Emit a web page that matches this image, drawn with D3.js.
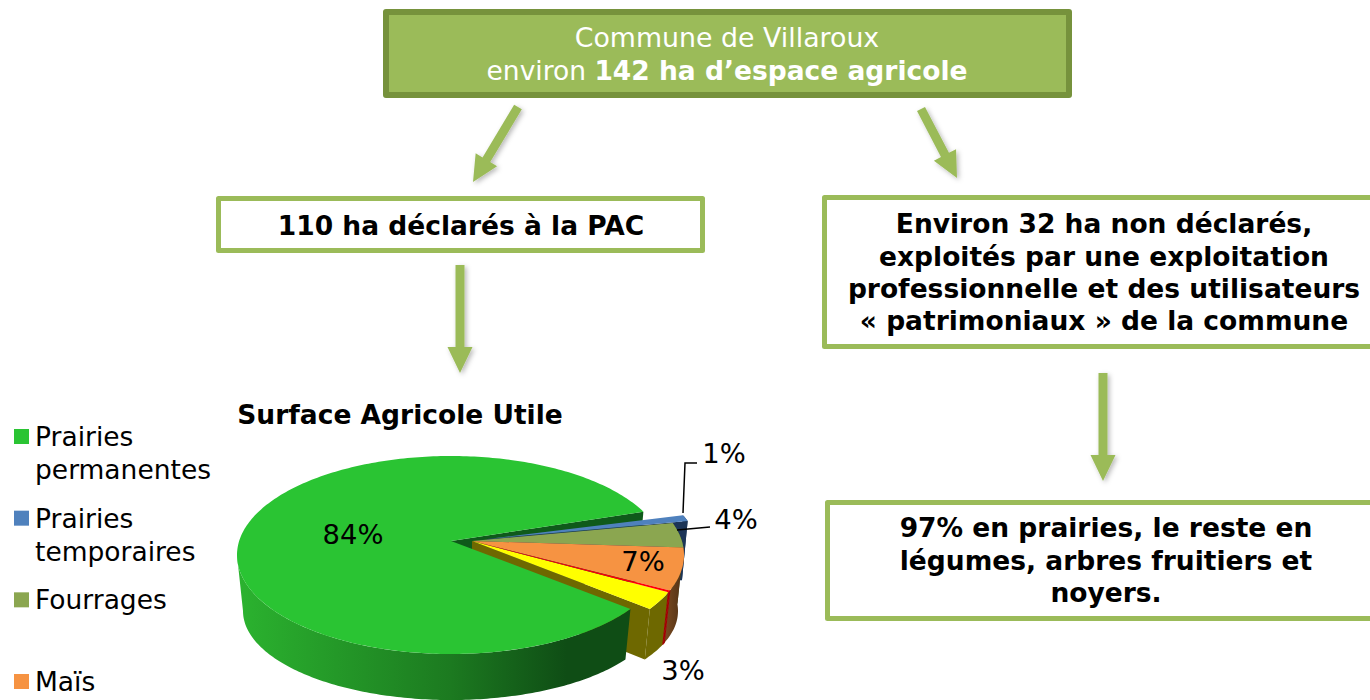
<!DOCTYPE html>
<html>
<head>
<meta charset="utf-8">
<title>Commune de Villaroux</title>
<script src="https://cdn.jsdelivr.net/npm/d3@7"></script>
<style>
  html, body { margin: 0; padding: 0; background: #fff; overflow: hidden; }
  svg { display: block; font-family: "DejaVu Sans", Verdana, sans-serif; }
</style>
</head>
<body>
<script>
// pie values (the red sliver has no label, its size is a guess)
var sliceNames = ["Prairies permanentes", "Prairies temporaires", "Fourrages", "Maïs", "Rouge", "Jaune"];
var sliceValues = [84, 1, 4, 7, 0.3, 3];
var sliceLabels = ["84%", "1%", "4%", "7%", "", "3%"];
var legendLines = [["Prairies", "permanentes"], ["Prairies", "temporaires"], ["Fourrages"], ["Maïs"]];
var chartTitle = "Surface Agricole Utile";

var w = 1370;
var h = 700;

var green = "#9bbb59";
var topColors = ["#2ac433", "#4f81bd", "#8ba650", "#f69342", "#ff0000", "#ffff00"];
var faceColors = ["#0f5a1a", "#1c3557", "#4a5a25", "#6a3f1c", "#a00000", "#6e6800"];

var svg = d3.select("body").append("svg")
    .attr("width", w)
    .attr("height", h);

var defs = svg.append("defs");

var shadow = defs.append("filter").attr("id", "shadow")
    .attr("x", "-30%").attr("y", "-30%").attr("width", "170%").attr("height", "170%");
shadow.append("feDropShadow")
    .attr("dx", 2).attr("dy", 2).attr("stdDeviation", 2.5)
    .attr("flood-color", "#000").attr("flood-opacity", 0.28);

var sideGradient = defs.append("linearGradient").attr("id", "greenSide")
    .attr("gradientUnits", "userSpaceOnUse")
    .attr("x1", 237).attr("x2", 625).attr("y1", 0).attr("y2", 0);
sideGradient.append("stop").attr("offset", "0%").attr("stop-color", "#2bb32f");
sideGradient.append("stop").attr("offset", "55%").attr("stop-color", "#1c7a20");
sideGradient.append("stop").attr("offset", "85%").attr("stop-color", "#0f4d15");
sideGradient.append("stop").attr("offset", "100%").attr("stop-color", "#0f4d15");

var brownGradient = defs.append("linearGradient").attr("id", "orangeSide")
    .attr("gradientUnits", "userSpaceOnUse")
    .attr("x1", 665).attr("x2", 684).attr("y1", 0).attr("y2", 0);
brownGradient.append("stop").attr("offset", "0%").attr("stop-color", "#7a4a20");
brownGradient.append("stop").attr("offset", "100%").attr("stop-color", "#4d2f14");

// ---- boxes ----
function box(x, y, width, height, stroke, strokeWidth, fill) {
  svg.append("rect")
      .attr("x", x).attr("y", y)
      .attr("width", width).attr("height", height)
      .attr("fill", fill)
      .attr("stroke", stroke)
      .attr("stroke-linejoin", "round")
      .attr("stroke-width", strokeWidth);
}

function centered(x, y, size, weight, fill, str) {
  return svg.append("text")
      .attr("x", x).attr("y", y)
      .attr("text-anchor", "middle")
      .attr("font-size", size)
      .attr("font-weight", weight)
      .attr("fill", fill)
      .text(str);
}

var boxFont = 26.5;

box(386, 12, 683, 83, "#76923c", 6, green);
centered(727, 47, 26.8, "normal", "#fff", "Commune de Villaroux");
var second = centered(727, 80, boxFont, "normal", "#fff", "environ ");
second.append("tspan").attr("font-weight", "bold").text("142 ha d’espace agricole");

box(218.5, 198.5, 484, 52, green, 5, "#fff");
centered(461, 235, boxFont, "bold", "#000", "110 ha déclarés à la PAC");

box(824.5, 197.5, 560, 149, green, 5, "#fff");
centered(1104, 233, boxFont, "bold", "#000", "Environ 32 ha non déclarés,");
centered(1104, 266, boxFont, "bold", "#000", "exploités par une exploitation");
centered(1104, 298, boxFont, "bold", "#000", "professionnelle et des utilisateurs");
centered(1104, 330, boxFont, "bold", "#000", "« patrimoniaux » de la commune");

box(827.5, 502.5, 560, 116, green, 5, "#fff");
centered(1106, 537, boxFont, "bold", "#000", "97% en prairies, le reste en");
centered(1106, 570, boxFont, "bold", "#000", "légumes, arbres fruitiers et");
centered(1106, 602, boxFont, "bold", "#000", "noyers.");

// ---- arrows ----
function arrow(x1, y1, x2, y2) {
  var a = Math.atan2(y2 - y1, x2 - x1);
  var ux = Math.cos(a), uy = Math.sin(a);
  var nx = -uy, ny = ux;
  var headLen = 26, headW = 12.5, shaftW = 4.5;
  var bx = x2 - ux * headLen, by = y2 - uy * headLen;
  var pts = [
    [x1 + nx * shaftW, y1 + ny * shaftW],
    [bx + nx * shaftW, by + ny * shaftW],
    [bx + nx * headW, by + ny * headW],
    [x2, y2],
    [bx - nx * headW, by - ny * headW],
    [bx - nx * shaftW, by - ny * shaftW],
    [x1 - nx * shaftW, y1 - ny * shaftW]
  ];
  svg.append("path")
      .attr("d", d3.line()(pts) + "Z")
      .attr("fill", green)
      .attr("filter", "url(#shadow)");
}

arrow(518, 107, 473, 182);
arrow(921, 109, 957, 178);
arrow(460, 265, 460, 373);
arrow(1103, 373, 1103, 481);

// ---- pie ----
var rad = Math.PI / 180;
var pie = d3.pie().sort(null).value(function(d) { return d; })
    .startAngle(123 * rad)
    .endAngle(483 * rad);
var slices = pie(sliceValues);
// perspective squeezes the far edge of the big slice, pull it back a little
slices[0].endAngle -= 3.5 * rad;

// ellipses of the lid and of the base (the base looks smaller, perspective)
var mainDisc = { ax: 451, ay: 541, cx: 451, cy: 555, rx: 214, ry: 99, bcx: 451, bcy: 611, brx: 208, bry: 89, aby: 590 };
var restDisc = { ax: 472, ay: 541, cx: 472, cy: 555, rx: 212, ry: 99, bcx: 472, bcy: 611, brx: 206, bry: 89, aby: 590 };
var blueDisc = { ax: 487, ay: 539, cx: 487, cy: 553, rx: 212, ry: 99, bcx: 487, bcy: 609, brx: 206, bry: 89, aby: 588 };

function discFor(i) {
  if (i === 0) return mainDisc;
  if (i === 1) return blueDisc;
  return restDisc;
}
function lid(disc, t) {
  return [disc.cx + disc.rx * Math.sin(t), disc.cy - disc.ry * Math.cos(t)];
}
function base(disc, t) {
  return [disc.bcx + disc.brx * Math.sin(t), disc.bcy - disc.bry * Math.cos(t)];
}
function sweep(t0, t1) {
  var n = Math.max(2, Math.ceil(Math.abs(t1 - t0) / (1 * rad)));
  return d3.range(n + 1).map(function(i) { return t0 + (t1 - t0) * i / n; });
}

var line = d3.line();
var gPie = svg.append("g");

function drawFace(i) {
  var d = slices[i], disc = discFor(i);
  gPie.append("path")
      .attr("d", line([[disc.ax, disc.ay], lid(disc, d.endAngle), base(disc, d.endAngle), [disc.ax, disc.aby]]) + "Z")
      .attr("fill", faceColors[i]);
}
function drawSide(i) {
  var d = slices[i], disc = discFor(i);
  // the big slice only shows the part of the rim that faces the viewer
  var t0 = i === 0 ? Math.max(d.startAngle, 90 * rad) : d.startAngle;
  var t1 = i === 0 ? Math.min(d.endAngle, 270 * rad) : d.endAngle;
  var fill = i === 0 ? "url(#greenSide)" : (i === 3 ? "url(#orangeSide)" : faceColors[i]);
  var ts = sweep(t0, t1);
  var pts = ts.map(function(t) { return lid(disc, t); })
      .concat(ts.slice().reverse().map(function(t) { return base(disc, t); }));
  gPie.append("path").attr("d", line(pts) + "Z")
      .attr("fill", fill)
      .attr("stroke", i === 4 ? faceColors[4] : "none")
      .attr("stroke-width", 1);
}
function drawLid(i) {
  var d = slices[i], disc = discFor(i);
  var pts = [[disc.ax, disc.ay]].concat(sweep(d.startAngle, d.endAngle).map(function(t) { return lid(disc, t); }));
  gPie.append("path").attr("d", line(pts) + "Z").attr("fill", topColors[i]);
}

// painter's order: cut face of the big slice, then the pulled out slices, then the big slice
drawFace(0);
[1, 2, 3, 5, 4].forEach(function(i) {
  // only the blue and yellow cut faces can be seen
  if (i === 1 || i === 5) drawFace(i);
  drawSide(i);
  drawLid(i);
});
drawSide(0);
drawLid(0);

// ---- data labels ----
var labelPos = [[353, 544], [724, 463], [736, 529], [643, 571], null, [683, 680]];
slices.forEach(function(d, i) {
  if (!sliceLabels[i]) return;
  svg.append("text")
      .attr("x", labelPos[i][0]).attr("y", labelPos[i][1])
      .attr("text-anchor", "middle")
      .attr("font-size", 27.4)
      .attr("fill", "#000")
      .text(sliceLabels[i]);
});

svg.append("path")
    .attr("d", line([[683, 513], [685, 463], [697, 463]]))
    .attr("fill", "none").attr("stroke", "#000").attr("stroke-width", 1.5);
svg.append("path")
    .attr("d", line([[677, 530], [710, 527]]))
    .attr("fill", "none").attr("stroke", "#000").attr("stroke-width", 1.5);

// ---- title and legend ----
centered(400, 424, boxFont, "bold", "#000", chartTitle);

var legendY = d3.scalePoint().domain(d3.range(legendLines.length)).range([429, 674]);
legendLines.forEach(function(lines, i) {
  var y = legendY(i);
  svg.append("rect")
      .attr("x", 14).attr("y", y)
      .attr("width", 15).attr("height", 15)
      .attr("fill", topColors[i]);
  lines.forEach(function(str, j) {
    svg.append("text")
        .attr("x", 35).attr("y", y + 17 + j * 33)
        .attr("font-size", boxFont)
        .attr("fill", "#000")
        .text(str);
  });
});
</script>
</body>
</html>
